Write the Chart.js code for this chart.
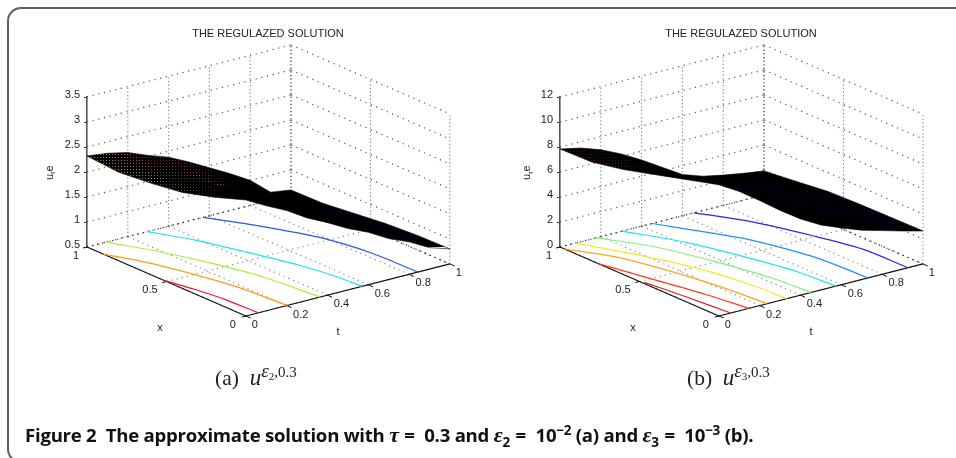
<!DOCTYPE html>
<html>
<head>
<meta charset="utf-8">
<title>The regulazed solution</title>
<script src="https://cdn.jsdelivr.net/npm/chart.js@4"></script>
<style>
  html,body{margin:0;padding:0;background:#fff;overflow:hidden;width:956px;height:458px;}
  canvas{position:absolute;top:0;}
  #chartA{left:0;} #chartB{left:473px;}
  .frame{position:absolute;left:7px;top:7px;width:980px;height:452px;border:2px solid #5f5f5f;border-radius:14px;}
  .sub{position:absolute;top:365px;font:21.5px/26px "Liberation Serif",serif;color:#222;white-space:pre;}
  .sub i{font-size:23px;}
  .sub sup{font-size:15px;line-height:0;vertical-align:8px;}
  .sub sup i{font-size:19px;}
  .sub sup sub{font-size:11px;line-height:0;vertical-align:-3px;}
  .caption{position:absolute;left:25px;top:423px;font:700 18.6px/24px "Open Sans",sans-serif;color:#111;white-space:pre;letter-spacing:-.25px;}
  .caption em{font-family:"Liberation Serif",serif;font-size:22px;}
  .caption sub,.caption sup{font-size:13.5px;line-height:0;}
  .caption .eq{margin:0 5px 0 1px;}
</style>
</head>
<body>
<div class="frame"></div>
<canvas id="chartA" width="483" height="458"></canvas>
<canvas id="chartB" width="483" height="458"></canvas>
<div class="sub" style="left:215px">(a)  <i>u</i><sup><i>ε</i><sub>2</sub>,0.3</sup></div>
<div class="sub" style="left:687px">(b)  <i>u</i><sup><i>ε</i><sub>3</sub>,0.3</sup></div>
<div class="caption">Figure 2  The approximate solution with <em>τ</em> <span class="eq">=</span> 0.3 and <em>ε</em><sub>2</sub> <span class="eq">=</span> 10<sup>−2</sup> (a) and <em>ε</em><sub>3</sub> <span class="eq">=</span> 10<sup>−3</sup> (b).</div>
<script>
/* axis ticks */
var xTicks=[0,0.5,1];
var tTicks=[0,0.2,0.4,0.6,0.8,1];
var uTicksA=[0.5,1,1.5,2,2.5,3,3.5];
var uTicksB=[0,2,4,6,8,10,12];

/* surface samples: rows are x, columns are t */
var gridX=[0,0.2,0.4,0.6,0.8,1];
var gridT=[0,0.1,0.2,0.3,0.4,0.5,0.6,0.7,0.8,0.9,1];
var surfaceA=[
  [2.82,2.60,2.40,2.15,1.95,1.73,1.55,1.32,1.15,0.93,0.80],
  [2.60,2.48,2.32,2.12,1.92,1.72,1.52,1.30,1.12,0.92,0.79],
  [2.42,2.36,2.24,2.06,1.86,1.68,1.48,1.27,1.08,0.88,0.75],
  [2.33,2.28,2.18,2.00,1.82,1.64,1.44,1.24,1.04,0.80,0.68],
  [2.27,2.25,2.16,1.96,1.80,1.60,1.42,1.20,1.00,0.72,0.61],
  [2.32,2.27,2.18,2.02,1.88,1.68,1.46,1.24,1.00,0.66,0.60]
];
var surfaceB=[
  [10.5,9.55,8.40,7.20,6.10,5.20,4.55,3.95,3.50,3.05,2.64],
  [9.80,9.10,8.10,7.00,6.00,5.10,4.40,3.85,3.40,3.00,2.62],
  [9.10,8.60,7.80,6.80,5.80,4.95,4.20,3.70,3.30,2.90,2.58],
  [8.40,8.10,7.40,6.50,5.60,4.70,4.00,3.50,3.10,2.75,2.50],
  [7.90,7.60,7.10,6.30,5.40,4.50,3.60,3.10,2.75,2.40,2.20],
  [7.84,7.50,6.95,6.20,5.30,4.30,3.30,2.75,2.42,2.15,1.92]
];
var tintRowsA=['.......bbb','n......bbb','gn.....bbb','yggod...bb','yorrrd....'];
var tintRowsB=['........bb','.......bbb','......bbbb','n.....bbb.','dd........'];

/* floor contours, read as x and t along each line */
var contourColorsA=['#e0202c','#ff9a1e','#a8f03c','#19e6f0','#2b55e6'];
var contourXA=[
  [0.516,0.352,0.19,0],
  [0.897,0.721,0.488,0.271,0.035,0],
  [1,0.772,0.555,0.316,0],
  [1,0.805,0.581,0.343,0.143,0],
  [1,0.839,0.709,0.545,0.291,0]
];
var contourTA=[
  [0,0.033,0.054,0.06],
  [0,0.075,0.139,0.182,0.2,0.203],
  [0.095,0.197,0.272,0.331,0.363],
  [0.296,0.386,0.456,0.525,0.56,0.569],
  [0.569,0.657,0.719,0.787,0.835,0.843]
];
var contourColorsB=['#d8202c','#ff3a1a','#ffa51e','#e6f02a','#80f080','#19e6f0','#1f8fff','#2a2ae6'];
var contourXB=[
  [0.481,0.253,0],
  [0.76,0.475,0.227,0],
  [0.972,0.75,0.426,0.183,0],
  [1,0.741,0.492,0.202,0],
  [1,0.777,0.469,0.184,0],
  [1,0.734,0.461,0.229,0],
  [1,0.795,0.641,0.339,0.18,0],
  [1,0.807,0.514,0.275,0]
];
var contourTB=[
  [0.009,0.035,0.058],
  [0,0.061,0.113,0.147],
  [0,0.112,0.187,0.222,0.236],
  [0.075,0.187,0.271,0.322,0.333],
  [0.177,0.296,0.384,0.439,0.45],
  [0.305,0.427,0.505,0.556,0.574],
  [0.452,0.556,0.632,0.71,0.725,0.73],
  [0.657,0.761,0.86,0.919,0.927]
];

/* oblique view: share of plot width and height taken by the x and t directions */
var VIEW_XH=0.439, VIEW_TH=0.5635, VIEW_XV=0.46, VIEW_TV=0.347;

var tintColors={y:'#a88a14',o:'#a85a12',r:'#8c1a0a',d:'#460a04',g:'#4e5c10',n:'#263408',b:'#000040'};
var FONT='"Liberation Sans",Arial,sans-serif';

function tintPattern(col){
  var tile=document.createElement('canvas'); tile.width=3; tile.height=3;
  var c=tile.getContext('2d'); c.fillStyle=col; c.fillRect(1,1,1,1);
  return c.createPattern(tile,'repeat');
}

function panel(id,cfg){
  var uMin=cfg.uTicks[0], uMax=cfg.uTicks[cfg.uTicks.length-1], R=uMax-uMin;
  function project(x,t,u){
    return {x:(1-x)*VIEW_XH+t*VIEW_TH, y:u+R*(t*VIEW_TV-(1-x)*VIEW_XV)};
  }
  function line(pts,col,w,dash,extra){
    var d={data:pts,showLine:true,borderColor:col,borderWidth:w,borderDash:dash||[],fill:false,clip:false,pointRadius:0,tension:0};
    if(extra)for(var k in extra)d[k]=extra[k];
    return d;
  }
  var top=[],contours=[],axes=[],grid=[];

  /* surface: tinted cells above a black outline, nearest cells last in paint order */
  var s=cfg.surface,i,j;
  for(i=0;i<gridX.length-1;i++){
    for(j=0;j<gridT.length-1;j++){
      var ch=cfg.tints[i].charAt(j);
      if(ch==='.')continue;
      top.push(line([
        project(gridX[i],gridT[j],s[i][j]),
        project(gridX[i+1],gridT[j],s[i+1][j]),
        project(gridX[i+1],gridT[j+1],s[i+1][j+1]),
        project(gridX[i],gridT[j+1],s[i][j+1])
      ],'rgba(0,0,0,0)',0,null,{fill:'shape',backgroundColor:tintPattern(tintColors[ch])}));
    }
  }
  var outline=[],last=gridT.length-1,lastX=gridX.length-1;
  for(j=0;j<=last;j++)outline.push(project(gridX[0],gridT[j],s[0][j]));
  for(i=1;i<=lastX;i++)outline.push(project(gridX[i],gridT[last],s[i][last]));
  for(j=last-1;j>=0;j--)outline.push(project(gridX[lastX],gridT[j],s[lastX][j]));
  for(i=lastX-1;i>0;i--)outline.push(project(gridX[i],gridT[0],s[i][0]));
  outline.push(outline[0]);
  top.push(line(outline,'#000',0.6,null,{fill:'shape',backgroundColor:'#000'}));

  /* contours on the floor */
  cfg.contourX.forEach(function(xs,n){
    var pts=xs.map(function(x,k){return project(x,cfg.contourT[n][k],uMin);});
    contours.push(line(pts,cfg.contourColors[n],1.2,null,{tension:0.3}));
  });

  /* box axes and their ticks */
  axes.push(line([project(0,0,uMin),project(1,0,uMin)],'#111',1.2));
  axes.push(line([project(0,0,uMin),project(0,1,uMin)],'#111',1.2));
  xTicks.forEach(function(x){axes.push(line([project(x,0,uMin),project(x,-0.02,uMin)],'#111',1));});
  tTicks.forEach(function(t){axes.push(line([project(0,t,uMin),project(-0.03,t,uMin)],'#111',1));});

  /* dotted grid: floor and the two back walls */
  var DARK='#222', LIGHT='#888';
  xTicks.forEach(function(x){
    grid.push(line([project(x,0,uMin),project(x,1,uMin)],x===1?DARK:LIGHT,1.2,[1.2,4]));
    grid.push(line([project(x,1,uMin),project(x,1,uMax)],x===1?DARK:LIGHT,1.2,[1.2,2.4]));
  });
  tTicks.forEach(function(t){
    grid.push(line([project(0,t,uMin),project(1,t,uMin)],t===1?DARK:LIGHT,1.2,[1.2,4]));
    if(t>0&&t<1)grid.push(line([project(1,t,uMin),project(1,t,uMax)],LIGHT,1.2,[1.2,2.4]));
  });
  cfg.uTicks.forEach(function(u){
    grid.push(line([project(1,0,u),project(1,1,u)],'#555',1.2,[1.2,4.6]));
    grid.push(line([project(1,1,u),project(0,1,u)],'#555',1.2,[1.2,4.6]));
  });

  var axisText={
    id:'axisText',
    afterDatasetsDraw:function(chart){
      var c=chart.ctx, sx=chart.scales.x, sy=chart.scales.y;
      function at(x,t){var p=project(x,t,uMin);return {x:sx.getPixelForValue(p.x),y:sy.getPixelForValue(p.y)};}
      function put(text,p,ox,oy){c.fillText(text,p.x+ox,p.y+oy);}
      c.save();
      c.fillStyle='#222'; c.font='11px '+FONT; c.textAlign='center'; c.textBaseline='middle';
      xTicks.forEach(function(x){
        put(String(x),at(x,0),x===0.5?-16.5:(x===1?-11:-13),8.5);
      });
      tTicks.forEach(function(t){
        put(String(t),at(0,t),(t===0||t===1)?9:14,9);
      });
      put('x',at(0.5,0),-6.5,46.5);
      put('t',at(0,0.5),-10,42);
      var a=chart.chartArea;
      c.translate(a.left+cfg.uLabelX,180);
      c.rotate(-Math.PI/2);
      c.textAlign='left'; c.textBaseline='alphabetic';
      c.fillText('u',0,0);
      c.font='7.5px '+FONT; c.fillText('r',6.2,2.6);
      c.font='11px '+FONT; c.fillText('e',8.6,0);
      c.restore();
    }
  };

  return new Chart(document.getElementById(id),{
    type:'scatter',
    data:{datasets:top.concat(contours,axes,grid)},
    plugins:[axisText],
    options:{
      responsive:false,animation:false,
      events:[],
      layout:{autoPadding:false,padding:{left:61,right:34,top:0,bottom:211}},
      plugins:{
        legend:{display:false},tooltip:{enabled:false},
        title:{display:true,text:'THE REGULAZED SOLUTION',fullSize:false,color:'#222',
          font:{family:FONT,size:11,weight:'normal',lineHeight:'12px'},padding:{top:28,bottom:57}}
      },
      scales:{
        x:{type:'linear',min:0,max:1,display:false},
        y:{type:'linear',min:uMin,max:uMax,
          afterFit:function(sc){sc.width=26;},
          afterBuildTicks:function(sc){sc.ticks=cfg.uTicks.map(function(v){return {value:v};});},
          border:{display:true,color:'#555',width:1.6},
          grid:{display:true,drawOnChartArea:false,drawTicks:true,tickLength:3,color:'#333',lineWidth:1},
          ticks:{color:'#222',font:{family:FONT,size:11},padding:4,labelOffset:-2,autoSkip:false,
            callback:function(v){return String(v);}}
        }
      }
    }
  });
}

panel('chartA',{uTicks:uTicksA,surface:surfaceA,tints:tintRowsA,contourX:contourXA,contourT:contourTA,contourColors:contourColorsA,uLabelX:-34.5});
panel('chartB',{uTicks:uTicksB,surface:surfaceB,tints:tintRowsB,contourX:contourXB,contourT:contourTB,contourColors:contourColorsB,uLabelX:-30});
</script>
</body>
</html>
